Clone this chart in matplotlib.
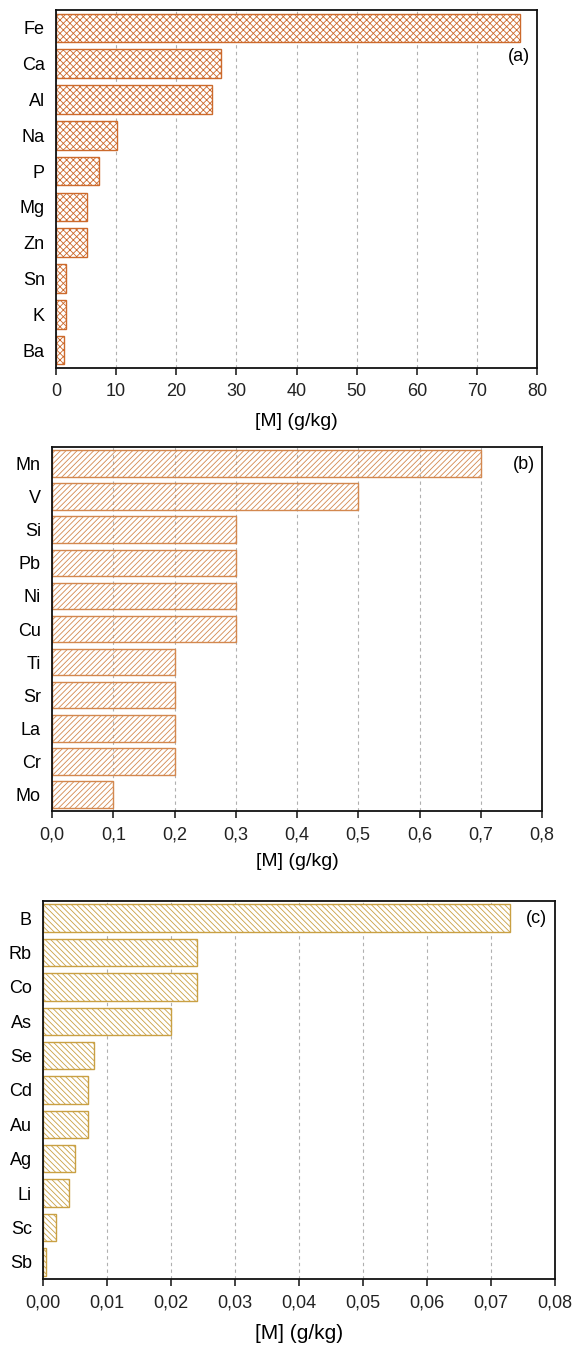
import matplotlib
matplotlib.use("Agg")
import matplotlib.pyplot as plt
from matplotlib.ticker import FuncFormatter

plt.rcParams['font.family'] = ['Liberation Sans', 'DejaVu Sans']
plt.rcParams['hatch.linewidth'] = 0.6

# panel (a)
elem_a = ['Fe', 'Ca', 'Al', 'Na', 'P', 'Mg', 'Zn', 'Sn', 'K', 'Ba']
val_a = [77.2, 27.4, 25.9, 10.1, 7.2, 5.2, 5.1, 1.7, 1.6, 1.4]

# panel (b)
elem_b = ['Mn', 'V', 'Si', 'Pb', 'Ni', 'Cu', 'Ti', 'Sr', 'La', 'Cr', 'Mo']
val_b = [0.7, 0.5, 0.3, 0.3, 0.3, 0.3, 0.2, 0.2, 0.2, 0.2, 0.1]

# panel (c)
elem_c = ['B', 'Rb', 'Co', 'As', 'Se', 'Cd', 'Au', 'Ag', 'Li', 'Sc', 'Sb']
val_c = [0.073, 0.024, 0.024, 0.020, 0.008, 0.007, 0.007, 0.005, 0.004, 0.002, 0.0005]

W, H = 577, 1348
fig = plt.figure(figsize=(W / 100, H / 100), dpi=100)


def box(l, t, r, b):
    return [l / W, 1 - b / H, (r - l) / W, (b - t) / H]


# elems, vals, rect, xmax, step, decimals, colour, hatch, face, tag, tag y, label size, labelpad
panels = [
    (elem_a, val_a, box(56, 10, 537, 368), 80, 10, 0, '#cc6a2c', 'xxxxx', 'white', '(a)', 0.895, 14, 9),
    (elem_b, val_b, box(52, 447, 542, 811), 0.8, 0.1, 1, '#d3884f', '//////', 'none', '(b)', 0.975, 14, 7),
    (elem_c, val_c, box(43, 901, 555, 1279), 0.08, 0.01, 2, '#c9a043', '\\\\\\\\\\\\', 'white', '(c)', 0.975, 15, 9),
]

for elems, vals, rect, xmax, step, dec, col, hatch, face, tag, ty, lblsize, lpad in panels:
    ax = fig.add_axes(rect)
    y = range(len(elems))
    ax.barh(y, vals, height=0.8, facecolor=face, edgecolor=col,
            hatch=hatch, linewidth=1.0, zorder=2)
    ax.set_ylim(len(elems) - 0.5, -0.5)
    ax.set_yticks(list(y))
    ax.set_yticklabels(elems)
    ax.set_xlim(0, xmax)
    n = int(round(xmax / step))
    ax.set_xticks([i * step for i in range(n + 1)])
    ax.xaxis.set_major_formatter(FuncFormatter(
        lambda v, p, d=dec: f"{v:.{d}f}".replace('.', ',')))
    ax.grid(axis='x', color='#b0b0b0', linestyle=(0, (3, 3)), linewidth=0.8, zorder=0)
    ax.set_axisbelow(True)
    ax.tick_params(axis='y', length=0, pad=8, labelsize=13)
    ax.tick_params(axis='x', direction='out', length=5, width=1.2, pad=6,
                   labelsize=13, colors='#222222')
    for s in ax.spines.values():
        s.set_linewidth(1.3)
        s.set_color('#111111')
    ax.set_xlabel('[M] (g/kg)', fontsize=lblsize, labelpad=lpad)
    ax.text(0.985, ty, tag, transform=ax.transAxes,
            ha='right', va='top', fontsize=13)

fig.savefig('out.png', dpi=100)
